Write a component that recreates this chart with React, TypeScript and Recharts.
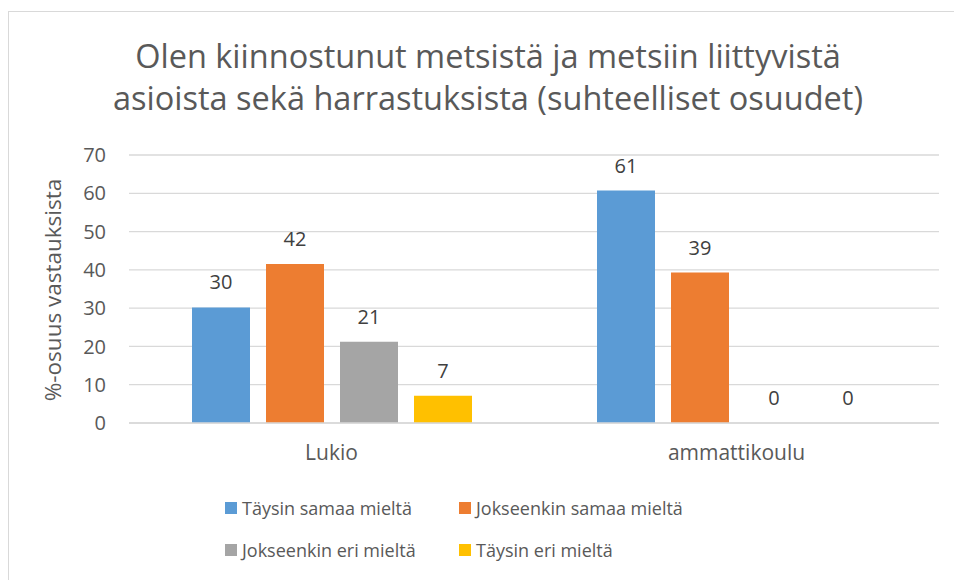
import React from "react";
import {
  Bar,
  BarChart,
  CartesianGrid,
  LabelList,
  Legend,
  XAxis,
  YAxis,
} from "recharts";

const categories = ["Lukio", "ammattikoulu"];
const taysinSamaa = [30.2, 60.7];
const jokseenkinSamaa = [41.5, 39.3];
const jokseenkinEri = [21.2, 0];
const taysinEri = [7.1, 0];
const yTicks = [0, 10, 20, 30, 40, 50, 60, 70];

const series = [
  { key: "a", name: "Täysin samaa mieltä", values: taysinSamaa, color: "#5b9bd5" },
  { key: "b", name: "Jokseenkin samaa mieltä", values: jokseenkinSamaa, color: "#ed7d31" },
  { key: "c", name: "Jokseenkin eri mieltä", values: jokseenkinEri, color: "#a5a5a5" },
  { key: "d", name: "Täysin eri mieltä", values: taysinEri, color: "#ffc000" },
];

const data = categories.map((cat, i) => {
  const row: Record<string, string | number> = { category: cat };
  series.forEach((s) => {
    row[s.key] = s.values[i];
  });
  return row;
});

const font = "'Open Sans', sans-serif";
const textColor = "#595959";

function renderLegend() {
  return (
    <div
      style={{
        display: "grid",
        gridTemplateColumns: "234px 280px",
        rowGap: 22,
        fontFamily: font,
        fontSize: 18,
        color: textColor,
      }}
    >
      {series.map((s) => (
        <div key={s.key} style={{ display: "flex", alignItems: "center", height: 20 }}>
          <span
            style={{
              display: "inline-block",
              width: 12,
              height: 12,
              background: s.color,
              marginRight: 5,
            }}
          />
          {s.name}
        </div>
      ))}
    </div>
  );
}

function renderValueLabel(props: any) {
  const { x, y, width, value } = props;
  return (
    <text
      x={Number(x) + Number(width) / 2}
      y={Number(y) - 18}
      textAnchor="middle"
      fill="#404040"
      fontSize={20}
      fontFamily={font}
    >
      {Math.round(Number(value))}
    </text>
  );
}

// zero values still need their label, so give them a hair-thin bar
const minSize = (value: unknown) => (Number(value) === 0 ? 0.01 : 0);

export default function App() {
  return (
    <div
      style={{
        position: "fixed",
        left: 0,
        top: 0,
        width: 954,
        height: 580,
        background: "#ffffff",
        overflow: "hidden",
      }}
    >
      <div
        style={{
          position: "absolute",
          left: 8,
          top: 11,
          width: 1000,
          height: 700,
          borderLeft: "1px solid #d9d9d9",
          borderTop: "1px solid #d9d9d9",
        }}
      />
      <div
        style={{
          position: "absolute",
          left: 0,
          top: 35,
          width: 954,
          textAlign: "center",
          fontFamily: font,
          fontSize: 32.5,
          lineHeight: "42px",
          color: textColor,
          paddingLeft: 22,
          boxSizing: "border-box",
        }}
      >
        Olen kiinnostunut metsistä ja metsiin liittyvistä
        <br />
        asioista sekä harrastuksista (suhteelliset osuudet)
      </div>
      <div style={{ position: "absolute", left: 0, top: 0 }}>
        <BarChart
          width={954}
          height={580}
          data={data}
          margin={{ top: 155, right: 15, bottom: 127, left: 69 }}
          barSize={58}
          barGap={16}
        >
          <CartesianGrid stroke="#d9d9d9" strokeWidth={1.3} vertical={false} />
          <XAxis
            dataKey="category"
            axisLine={{ stroke: "#d9d9d9", strokeWidth: 1.3 }}
            tickLine={false}
            tickSize={0}
            tickMargin={22}
            height={30}
            tick={{ fill: textColor, fontSize: 21, fontFamily: font }}
          />
          <YAxis
            width={60}
            domain={[0, 70]}
            ticks={yTicks}
            axisLine={false}
            tickLine={false}
            tickSize={0}
            tickMargin={23}
            tick={{ fill: textColor, fontSize: 20, fontFamily: font }}
            label={{
              value: "%-osuus vastauksista",
              angle: -90,
              position: "insideLeft",
              offset: 0,
              dx: -16,
              dy: 1,
              style: { fill: textColor, fontSize: 22.5, fontFamily: font, textAnchor: "middle" },
            }}
          />
          <Legend
            verticalAlign="middle"
            layout="horizontal"
            content={renderLegend}
            wrapperStyle={{ top: 498, left: 225, width: 520 }}
          />
          {series.map((s) => (
            <Bar
              key={s.key}
              dataKey={s.key}
              name={s.name}
              fill={s.color}
              minPointSize={minSize}
              isAnimationActive={false}
            >
              <LabelList dataKey={s.key} content={renderValueLabel} />
            </Bar>
          ))}
        </BarChart>
      </div>
    </div>
  );
}
